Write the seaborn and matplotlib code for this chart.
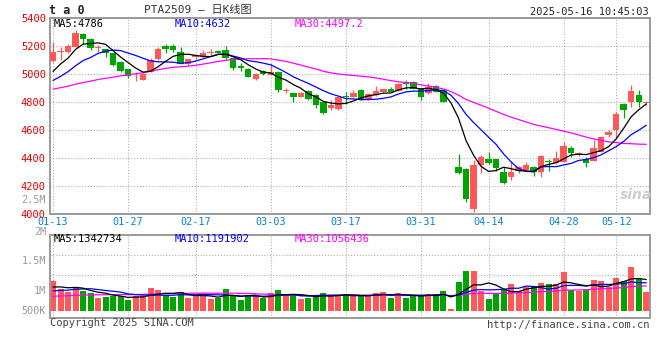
import numpy as np
import pandas as pd
import matplotlib
matplotlib.use('Agg')
import matplotlib.pyplot as plt
import seaborn as sns

# trading days shown (weekdays minus exchange holidays)
holidays = ['2025-01-28', '2025-01-29', '2025-01-30', '2025-01-31', '2025-02-03',
            '2025-02-04', '2025-04-04', '2025-05-01', '2025-05-02', '2025-05-05']
dates = pd.bdate_range('2025-01-13', '2025-05-16')
dates = dates[~dates.isin(pd.to_datetime(holidays))]

# daily OHLC
opens = [5093, 5160, 5155, 5195, 5283, 5248, 5185, 5176, 5148, 5088,
         5033, 4990, 4957, 5017, 5110, 5202, 5200, 5160, 5071, 5119,
         5119, 5148, 5164, 5171, 5112, 5060, 5036, 4964, 5024, 4993,
         5017, 4878, 4862, 4838, 4879, 4850, 4802, 4755, 4750, 4840,
         4838, 4886, 4819, 4850, 4874, 4893, 4879, 4945, 4945, 4898,
         4867, 4914, 4886, 4548, 4334, 4321, 4036, 4350, 4391, 4391,
         4298, 4266, 4310, 4314, 4334, 4302, 4376, 4366, 4374, 4469,
         4421, 4393, 4381, 4445, 4564, 4600, 4783, 4802, 4850, 4793]
highs = [5231, 5195, 5214, 5314, 5290, 5255, 5207, 5180, 5152, 5092,
         5036, 5017, 5004, 5117, 5195, 5214, 5217, 5195, 5110, 5140,
         5171, 5176, 5170, 5200, 5115, 5076, 5040, 5005, 5030, 5069,
         5020, 4902, 4866, 4872, 4883, 4855, 4805, 4814, 4845, 4874,
         4886, 4890, 4862, 4914, 4895, 4905, 4933, 4955, 4950, 4902,
         4938, 4920, 4890, 4548, 4429, 4325, 4386, 4420, 4445, 4395,
         4334, 4369, 4345, 4370, 4340, 4420, 4391, 4452, 4512, 4486,
         4445, 4410, 4526, 4555, 4600, 4730, 4790, 4921, 4886, 4810]
lows = [5085, 5100, 5150, 5190, 5214, 5171, 5155, 5119, 5060, 5015,
        4969, 4952, 4955, 5014, 5100, 5148, 5160, 5068, 5065, 5110,
        5115, 5138, 5148, 5105, 5029, 5024, 4976, 4960, 4995, 4990,
        4874, 4862, 4802, 4834, 4815, 4755, 4712, 4745, 4745, 4786,
        4834, 4815, 4815, 4845, 4870, 4870, 4875, 4893, 4890, 4814,
        4855, 4870, 4798, 4548, 4284, 4088, 4016, 4290, 4360, 4310,
        4215, 4243, 4290, 4305, 4272, 4265, 4307, 4360, 4370, 4407,
        4415, 4335, 4375, 4440, 4550, 4541, 4688, 4767, 4767, 4779]
closes = [5160, 5166, 5202, 5290, 5248, 5183, 5190, 5148, 5064, 5021,
          4986, 4995, 5000, 5100, 5180, 5179, 5171, 5071, 5105, 5136,
          5148, 5160, 5152, 5112, 5045, 5040, 4981, 5000, 5000, 5017,
          4886, 4883, 4838, 4867, 4819, 4779, 4719, 4778, 4838, 4836,
          4867, 4821, 4857, 4881, 4890, 4874, 4929, 4929, 4893, 4838,
          4905, 4874, 4802, 4548, 4295, 4105, 4350, 4405, 4366, 4326,
          4224, 4298, 4334, 4350, 4298, 4414, 4374, 4398, 4486, 4438,
          4438, 4362, 4469, 4552, 4588, 4712, 4743, 4881, 4798, 4795]
# daily volume (thousand lots)
volumes = [1256, 918, 804, 1015, 846, 761, 550, 592, 622, 635,
           478, 622, 622, 973, 876, 664, 592, 804, 550, 664,
           664, 495, 550, 918, 664, 453, 664, 622, 563, 761,
           876, 622, 706, 495, 563, 664, 761, 664, 622, 706,
           647, 647, 647, 761, 804, 550, 761, 550, 647, 647,
           706, 706, 833, 85, 1227, 1692, 1692, 833, 495, 761,
           876, 1129, 833, 1015, 1045, 1184, 1129, 1129, 1637, 876,
           833, 876, 1299, 1256, 1015, 1396, 1256, 1861, 1341, 804]
# sessions before 01-13 (estimated from where the MA lines start)
prev_closes = [4840, 4885, 4860, 4900, 4870, 4850, 4885,
               4800, 4760, 4745, 4790, 4770, 4785,
               4850, 4905, 4940, 4960, 4950, 4955,
               4900, 4880, 4860, 4870, 4880,
               4960, 4900, 4990, 4980, 5060]
prev_volumes = [470, 520, 480, 540, 500, 460, 530, 510, 490, 550,
                520, 480, 500, 540, 510, 470, 530, 520, 540, 516,
                640, 700, 660, 720, 665, 900, 980, 940, 999]

tick_labels = ['01-13', '01-27', '02-17', '03-03', '03-17', '03-31', '04-14', '04-28', '05-12']
price_ticks = [4000, 4200, 4400, 4600, 4800, 5000, 5200, 5400]
vol_grid = [1.52e6, 2.37e6]
vol_labels = ['2.5M', '2M', '1.5M', '1M', '500K']

RED = '#ff5858'
GREEN = '#00a400'
GRID = '#b0b0b0'
FRAME = '#9a9a9a'

n_prev = len(prev_closes)
cl = pd.Series(prev_closes + closes, dtype=float)
vo = pd.Series(prev_volumes + volumes, dtype=float) * 1000
df = pd.DataFrame({
    'i': np.arange(len(closes)),
    'open': opens, 'high': highs, 'low': lows, 'close': closes,
    'volume': np.array(volumes) * 1000,
})
for w in (5, 10, 30):
    df[f'ma{w}'] = cl.rolling(w).mean().iloc[n_prev:].to_numpy()
    df[f'vma{w}'] = vo.rolling(w).mean().iloc[n_prev:].to_numpy()
df['up'] = df['close'] >= df['open']
colors = np.where(df['up'], RED, GREEN)

sns.set_style('white')
plt.rcParams['font.family'] = ['DejaVu Sans Mono', 'Noto Sans CJK SC']

W, H = 660, 360
fig = plt.figure(figsize=(W / 100, H / 100), dpi=100)


def fx(p):
    return p / W


def fy(p):
    return 1 - p / H


ax = fig.add_axes([fx(50), fy(214), fx(600), (214 - 18) / H])
ax2 = fig.add_axes([fx(50), fy(318), fx(600), (318 - 235) / H], sharex=ax)

tick_pos = [dates.get_loc(pd.Timestamp('2025-' + t)) for t in tick_labels]

# candles
ax.vlines(df['i'], df['low'], df['high'], color=colors, lw=0.9, zorder=2)
body = np.maximum((df['close'] - df['open']).abs(), 5)
ax.bar(df['i'], body, bottom=np.minimum(df['open'], df['close']),
       width=0.86, color=colors, linewidth=0, zorder=3)
for w, c in ((30, '#ff00ff'), (10, '#0000ff'), (5, 'black')):
    sns.lineplot(x=df['i'], y=df[f'ma{w}'], ax=ax, color=c, lw=0.9, zorder=4)

ax.set_xlim(-0.4, 79.5)
ax.set_ylim(4000, 5400)
ax.set_yticks(price_ticks)
ax.set_xticks(tick_pos)
ax.set_xticklabels(tick_labels)
ax.tick_params(axis='y', length=0, pad=3, labelsize=7.5, labelcolor='#e00000')
ax.tick_params(axis='x', length=0, pad=2.4, labelsize=7.3, labelcolor='#0a80d0')
ax.set_xlabel('')
ax.set_ylabel('')
ax.grid(True, color=GRID, lw=0.8, linestyle=(0, (1, 1.6)))
ax.set_axisbelow(True)

# volume
ax2.bar(df['i'], df['volume'], width=0.8, color=colors, linewidth=0, zorder=2)
for w, c in ((30, '#ff00ff'), (10, '#0000ff'), (5, 'black')):
    sns.lineplot(x=df['i'], y=df[f'vma{w}'], ax=ax2, color=c, lw=0.9, zorder=4)
ax2.set_ylim(-296e3, 3215e3)
ax2.set_yticks(vol_grid)
ax2.tick_params(axis='both', length=0, labelleft=False, labelbottom=False)
ax2.set_xlabel('')
ax2.set_ylabel('')
ax2.grid(True, color=GRID, lw=0.8, linestyle=(0, (1, 1.6)))
ax2.set_axisbelow(True)

for a in (ax, ax2):
    for s in a.spines.values():
        s.set_color(FRAME)
        s.set_linewidth(1.4)

# texts
fig.text(fx(49), fy(11), 't a 0', fontsize=8.5, fontweight='bold', va='center', ha='left')
fig.text(fx(198), fy(10.5), 'PTA2509 – 日K线图', fontsize=8, color='#333333',
         va='center', ha='center', family=['DejaVu Sans Mono', 'Noto Sans CJK SC'])
fig.text(fx(649), fy(12), '2025-05-16 10:45:03', fontsize=7.5, va='center', ha='right')

ax.text(fx(54), fy(24), 'MA5:4786', transform=fig.transFigure, fontsize=7.5, color='black', va='center')
ax.text(fx(175), fy(24), 'MA10:4632', transform=fig.transFigure, fontsize=7.5, color='#0000ff', va='center')
ax.text(fx(295), fy(24), 'MA30:4497.2', transform=fig.transFigure, fontsize=7.5, color='#ff00ff', va='center')
ax2.text(fx(54), fy(238.5), 'MA5:1342734', transform=fig.transFigure, fontsize=7.5, color='black', va='center')
ax2.text(fx(175), fy(238.5), 'MA10:1191902', transform=fig.transFigure, fontsize=7.5, color='#0000ff', va='center')
ax2.text(fx(295), fy(238.5), 'MA30:1056436', transform=fig.transFigure, fontsize=7.5, color='#ff00ff', va='center')

for lab, py in zip(vol_labels, [200, 232, 261, 291, 310.5]):
    fig.text(fx(46), fy(py), lab, fontsize=7.3, color='#999999', ha='right', va='center')

fig.text(fx(50), fy(323.5), 'Copyright 2025 SINA.COM', fontsize=7.5, color='#444444', va='center')
fig.text(fx(649), fy(324.5), 'http://finance.sina.com.cn', fontsize=7.5, color='#444444',
         va='center', ha='right')
fig.text(fx(636), fy(195), 'sina', fontsize=10, color='#cfcfcf', style='italic',
         fontweight='bold', ha='center', va='center', family='DejaVu Sans')

fig.savefig('out.png', dpi=100)
